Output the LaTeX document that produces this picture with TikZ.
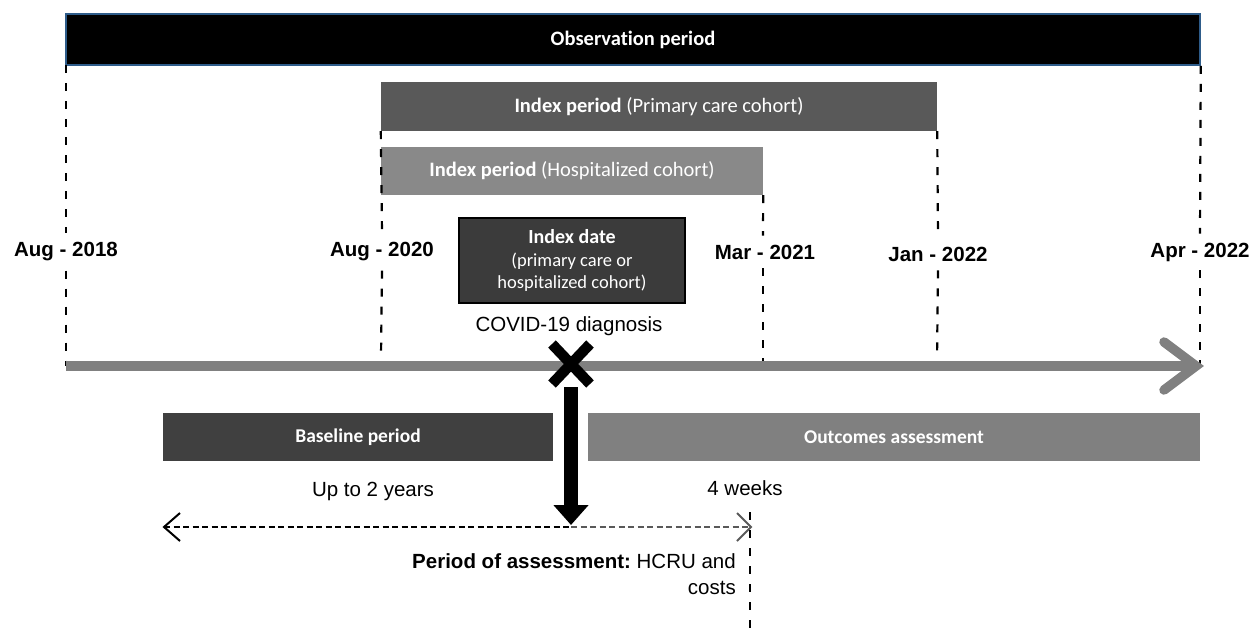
\documentclass[tikz,border=0pt]{standalone}
\usepackage{fontspec}
\setmainfont{Liberation Sans}
\newfontfamily\carl[Ligatures=NoCommon]{Carlito}
\usetikzlibrary{arrows.meta}
\definecolor{obsborder}{HTML}{2E5C8A}
\definecolor{primgray}{HTML}{595959}
\definecolor{hospgray}{HTML}{898989}
\definecolor{idxgray}{HTML}{3B3B3B}
\definecolor{basegray}{HTML}{404040}
\definecolor{outgray}{HTML}{808080}
\definecolor{tlgray}{HTML}{808080}
\definecolor{dashgray}{HTML}{595959}
\frenchspacing
\begin{document}
\begin{tikzpicture}[x=1pt,y=-1pt,
  barbox/.style={rectangle, inner sep=0pt, text=white, font=\carl\fontsize{20.5}{24}\selectfont},
  lowbar/.style={rectangle, inner sep=0pt, text=white, font=\carl\fontsize{19.5}{23}\selectfont\bfseries, minimum height=48pt},
  datelbl/.style={font=\fontsize{20.5}{24}\selectfont\bfseries, inner xsep=0pt, inner ysep=9pt},
  plain/.style={font=\fontsize{20.5}{24}\selectfont, inner sep=0pt},
  vdash/.style={line width=2.2pt, dash pattern=on 8pt off 10pt},
  hdash/.style={line width=2pt, dash pattern=on 6pt off 3.5pt}
]
\useasboundingbox (0,0) rectangle (1252,630);

% top bars
\node[barbox, fill=black, draw=obsborder, line width=1.5pt, minimum width=1134pt, minimum height=51pt] (obs) at (633,39.5) {\bfseries Observation period};
\node[barbox, fill=primgray, minimum width=556pt, minimum height=49pt] (prim) at (659,106.5) {\textbf{Index period} (Primary care cohort)};
\node[barbox, fill=hospgray, minimum width=382pt, minimum height=48pt] (hosp) at (572,171) {\textbf{Index period} (Hospitalized cohort)};

% index date box
\node[rectangle, fill=idxgray, draw=black, line width=1.5pt, minimum width=226pt, minimum height=85pt, inner sep=0pt, text=white, align=center, font=\carl\fontsize{18.5}{22.5}\selectfont] (idx) at (572,260.5) {{\fontsize{20}{22.5}\selectfont\bfseries Index date}\\(primary care or\\hospitalized cohort)};
\node[plain] (covid) at (569,326) {COVID-19 diagnosis};

% date labels
\node[datelbl] (d1) at (66,252) {Aug - 2018};
\node[datelbl] (d2) at (382,252) {Aug - 2020};
\node[datelbl] (d3) at (765,252) {Mar - 2021};
\node[datelbl] (d4) at (938,254) {Jan - 2022};
\node[datelbl] (d5) at (1200,252) {Apr - 2022};

% timeline coordinates
\coordinate (t1) at (66,366);
\coordinate (t2) at (381,357);
\coordinate (t3) at (763,368);
\coordinate (t4) at (937,360);
\coordinate (t5) at (1200,366);
\coordinate (tlstart) at (66,366);
\coordinate (tlend) at (1192,366);

% dashed verticals
\draw[vdash] (66,65) -- (d1.north);
\draw[vdash] (d1.south) -- (t1);
\draw[vdash] (prim.south west) -- (d2.north);
\draw[vdash] (d2.south) -- (t2);
\draw[vdash] (hosp.south east) -- (763,0 |- d3.north);
\draw[vdash] (763,0 |- d3.south) -- (t3);
\draw[vdash] (prim.south east) -- (d4.north);
\draw[vdash] (d4.south) -- (t4);
\draw[vdash] (obs.south east) -- (d5.north);
\draw[vdash] (d5.south) -- (t5);

% timeline arrow
\draw[tlgray, line width=10pt] (tlstart) -- (tlend);
\coordinate (chu) at (1164,342);
\coordinate (chtip) at (1196,366);
\coordinate (chd) at (1164,390);
\draw[tlgray, line width=9.5pt, line cap=round, line join=miter] (chu) -- (chtip) -- (chd);

% X mark
\coordinate (X) at (571,364);
\draw[black, line width=10.5pt] (552,344) -- (590,384) (552,384) -- (590,344);

% bottom bars
\node[lowbar, fill=basegray, minimum width=390pt] (base) at (358,437) {Baseline period};
\node[lowbar, fill=outgray, minimum width=612pt] (out) at (894,437) {Outcomes assessment};

% black down arrow
\coordinate (ba1) at (571,387);
\coordinate (ba2) at (571,525);
\draw[black, line width=14pt, -{Triangle[length=20pt,width=34pt]}] (ba1) -- (ba2);

% texts
\node[plain] (up2) at (373,491) {Up to 2 years};
\node[plain] (w4) at (745,488) {4 weeks};
\node[plain, anchor=north east, align=right, font=\fontsize{20.5}{26}\selectfont] (poa) at (736,553) {\textbf{Period of assessment:} HCRU and\\costs};

% dashed double arrow
\coordinate (da) at (164,527);
\coordinate (dm) at (571,527);
\coordinate (db) at (751,527);
\draw[hdash, black] (da) -- (dm);
\draw[hdash, dashgray] (dm) -- (db);
\draw[black, line width=2pt] (180,513) -- (da) -- (180,541);
\draw[dashgray, line width=2pt] (737,513) -- (db) -- (737,541);

% vertical dashed at 4 weeks
\coordinate (w4top) at (750,512);
\coordinate (w4bot) at (750,630);
\draw[vdash, line width=2pt] (w4top) -- (w4bot);
\end{tikzpicture}
\end{document}
